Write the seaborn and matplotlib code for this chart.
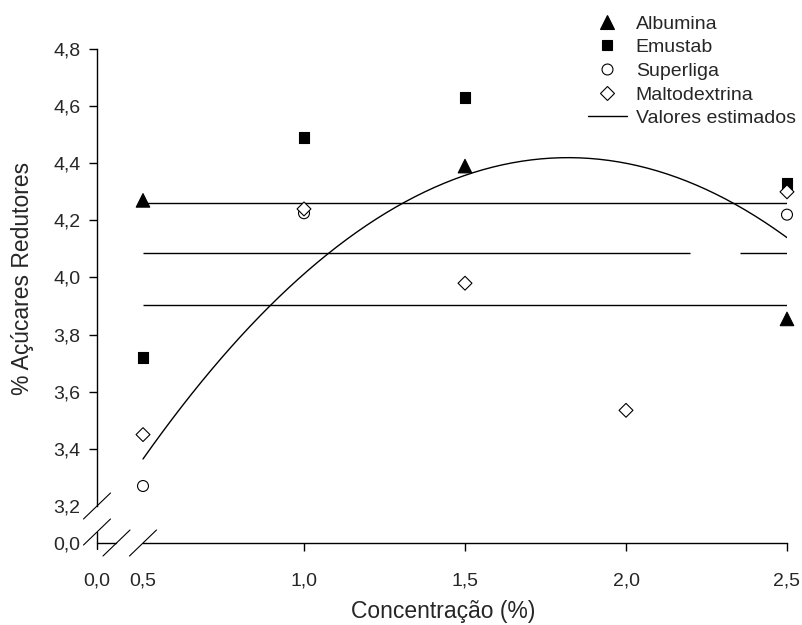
import numpy as np
import pandas as pd
import matplotlib
matplotlib.use('Agg')
import matplotlib.pyplot as plt
from matplotlib.lines import Line2D
import seaborn as sns

# valores
conc_albumina = [0.5, 1.5, 2.5]
ar_albumina = [4.27, 4.39, 3.855]
conc_emustab = [0.5, 1.0, 1.5, 2.5]
ar_emustab = [3.72, 4.49, 4.63, 4.33]
conc_superliga = [0.5, 1.0, 2.5]
ar_superliga = [3.27, 4.225, 4.22]
conc_malto = [0.5, 1.0, 1.5, 2.0, 2.5]
ar_malto = [3.45, 4.24, 3.98, 3.535, 4.30]

grupos = ['Albumina', 'Emustab', 'Superliga', 'Maltodextrina']

# valores estimados (modelos ajustados)
niveis_estimados = [4.26, 4.085, 3.905]
coef_quadratico = [-0.6055, 2.204, 2.414]  # a*x^2 + b*x + c
x_ajuste = [0.5, 2.5]

sns.set_style('white')
plt.rcParams['font.family'] = ['Liberation Sans', 'DejaVu Sans']
plt.rcParams['font.size'] = 14

df = pd.concat([
    pd.DataFrame({'conc': conc_albumina, 'ar': ar_albumina, 'grupo': 'Albumina'}),
    pd.DataFrame({'conc': conc_emustab, 'ar': ar_emustab, 'grupo': 'Emustab'}),
    pd.DataFrame({'conc': conc_superliga, 'ar': ar_superliga, 'grupo': 'Superliga'}),
    pd.DataFrame({'conc': conc_malto, 'ar': ar_malto, 'grupo': 'Maltodextrina'}),
])

markers = {'Albumina': '^', 'Emustab': 's', 'Superliga': 'o', 'Maltodextrina': 'D'}
cores = {'Albumina': 'black', 'Emustab': 'black', 'Superliga': 'white', 'Maltodextrina': 'white'}
tamanhos = {'Albumina': 95, 'Emustab': 62, 'Superliga': 62, 'Maltodextrina': 50}

fig = plt.figure(figsize=(8.02, 6.25), dpi=100)
# eixo principal, com quebra entre 0 e 0,5 (x) e entre 0 e 3,2 (y)
ax = fig.add_axes([97 / 802, 82 / 625, 690 / 802, 494 / 625])
x0 = 0.5 - 46 / 322.0
y0 = 3.2 - 37 / 285.6
ax.set_xlim(x0, 2.5)
ax.set_ylim(y0, 4.8)

# curva quadratica
xs = np.linspace(x_ajuste[0], x_ajuste[1], 200)
sns.lineplot(x=xs, y=np.polyval(coef_quadratico, xs), color='black', lw=1.0, ax=ax)
# linhas horizontais
ax.hlines(niveis_estimados[0], 0.5, 2.5, color='black', lw=1.0)
ax.hlines(niveis_estimados[1], 0.5, 2.2, color='black', lw=1.0)
ax.hlines(niveis_estimados[1], 2.354, 2.5, color='black', lw=1.0)
ax.hlines(niveis_estimados[2], 0.5, 2.5, color='black', lw=1.0)

sns.scatterplot(data=df, x='conc', y='ar', hue='grupo', style='grupo', size='grupo',
                markers=markers, palette=cores, sizes=tamanhos, hue_order=grupos,
                edgecolor='black', linewidth=0.8, legend=False, ax=ax, zorder=5, clip_on=False)

# eixos
for s in ['top', 'right']:
    ax.spines[s].set_visible(False)
ax.spines['left'].set_bounds(3.2, 4.8)
ax.spines['bottom'].set_bounds(0.5, 2.5)
for s in ['left', 'bottom']:
    ax.spines[s].set_linewidth(1.0)
    ax.spines[s].set_color('black')

ax.set_xticks([1.0, 1.5, 2.0, 2.5], ['1,0', '1,5', '2,0', '2,5'])
ax.set_yticks([3.4, 3.6, 3.8, 4.0, 4.2, 4.4, 4.6, 4.8],
              ['3,4', '3,6', '3,8', '4,0', '4,2', '4,4', '4,6', '4,8'])
ax.set_xticks([x0, 0.5], ['0,0', '0,5'], minor=True)
ax.set_yticks([y0, 3.2], ['0,0', '3,2'], minor=True)
ax.tick_params(which='major', direction='out', length=5.8, width=1.0, color='black',
               bottom=True, left=True)
ax.tick_params(axis='x', which='major', pad=15.5)
ax.tick_params(axis='y', which='major', pad=6)
ax.tick_params(axis='x', which='minor', length=0, pad=21.3, bottom=True)
ax.tick_params(axis='y', which='minor', length=0, pad=11.8, left=True)
ax.tick_params(labelsize=14)

# trechos curtos e marcas de quebra
kw = dict(color='black', lw=1.0, clip_on=False)
ax.plot([x0, x0], [y0 - 6 / 285.6, 3.2 - 26 / 285.6], **kw)
ax.plot([x0, 0.5 - 26.5 / 322], [y0, y0], **kw)
dx, dy = 13.5 / 322, 13 / 285.6
for cx, cy in [(x0, 3.2), (x0, 3.2 - 26 / 285.6), (0.5 - 26.5 / 322, y0), (0.5, y0)]:
    ax.plot([cx - dx, cx + dx], [cy - dy, cy + dy], color='black', lw=0.8, clip_on=False)

ax.set_xlabel('Concentração (%)', fontsize=16.5)
ax.set_ylabel('% Açúcares Redutores', fontsize=16.5)
ax.xaxis.set_label_coords(0.502, -0.116)
ax.yaxis.set_label_coords(-0.092, 0.536)

handles = [Line2D([], [], ls='none', marker=markers[g], markerfacecolor=cores[g],
                  markeredgecolor='black', markeredgewidth=0.8,
                  markersize=np.sqrt(tamanhos[g])) for g in grupos]
handles.append(Line2D([], [], color='black', lw=1.0))
fig.legend(handles, grupos + ['Valores estimados'], loc='upper left',
           bbox_to_anchor=(588 / 802, 1 - 15 / 625), frameon=False, fontsize=14,
           handlelength=2.0, handletextpad=0.45, labelspacing=0.31, borderpad=0,
           borderaxespad=0)

fig.savefig('out.png', dpi=100)
